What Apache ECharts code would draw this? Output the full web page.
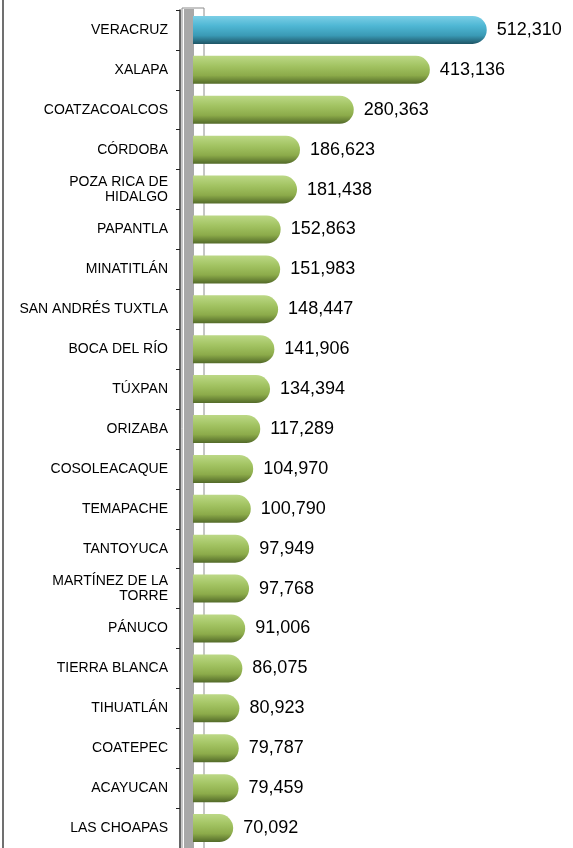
<!DOCTYPE html>
<html>
<head>
<meta charset="utf-8">
<style>
  html, body { margin: 0; padding: 0; background: #fff; }
  #main { width: 573px; height: 848px; }
</style>
<script src="https://cdn.jsdelivr.net/npm/echarts@6/dist/echarts.min.js"></script>
</head>
<body>
<div id="main"></div>
<script>
// municipios y población
var categories = ['VERACRUZ', 'XALAPA', 'COATZACOALCOS', 'CÓRDOBA', 'POZA RICA DE\nHIDALGO',
  'PAPANTLA', 'MINATITLÁN', 'SAN ANDRÉS TUXTLA', 'BOCA DEL RÍO', 'TÚXPAN', 'ORIZABA',
  'COSOLEACAQUE', 'TEMAPACHE', 'TANTOYUCA', 'MARTÍNEZ DE LA\nTORRE', 'PÁNUCO',
  'TIERRA BLANCA', 'TIHUATLÁN', 'COATEPEC', 'ACAYUCAN', 'LAS CHOAPAS'];
var values = [512310, 413136, 280363, 186623, 181438, 152863, 151983, 148447, 141906, 134394,
  117289, 104970, 100790, 97949, 97768, 91006, 86075, 80923, 79787, 79459, 70092];

var GRID_LEFT = 193, GRID_TOP = 10, GRID_H = 840;

function cylinder(c0, c1, c2, c3) {
  return new echarts.graphic.LinearGradient(0, 0, 0, 1, [
    { offset: 0, color: c0 },
    { offset: 0.35, color: c1 },
    { offset: 0.7, color: c2 },
    { offset: 1, color: c3 }
  ]);
}
var green = cylinder('#bcd886', '#a3c463', '#8cab4a', '#536a29');
var blue = cylinder('#7ccfe6', '#4fb7d4', '#3a9ab5', '#1f5566');

var chart = echarts.init(document.getElementById('main'));

var option = {
  animation: false,
  grid: {
    left: GRID_LEFT,
    top: GRID_TOP,
    height: GRID_H,
    right: 36
  },
  xAxis: {
    type: 'value',
    min: 0,
    max: 600000,
    show: false
  },
  yAxis: {
    type: 'category',
    inverse: true,
    data: categories,
    offset: 13,
    z: 3,
    axisLine: { show: true, onZero: false, lineStyle: { color: '#333', width: 1.5 } },
    axisTick: { show: true, inside: false, length: 4, lineStyle: { color: '#222', width: 1 } },
    axisLabel: {
      margin: 12,
      color: '#000',
      fontSize: 14,
      lineHeight: 15,
      fontFamily: 'Liberation Sans, Arial, sans-serif',
      align: 'right'
    },
    splitLine: { show: false }
  },
  // pared lateral del gráfico 3D
  graphic: [
    {
      type: 'line',
      shape: { x1: 3, y1: 0, x2: 3, y2: 848 },
      style: { stroke: '#404040', lineWidth: 1.5 }
    },
    {
      type: 'rect',
      shape: { x: 182, y: GRID_TOP - 2, width: 22, height: GRID_H + 10 },
      style: { fill: '#fff', stroke: '#8c8c8c', lineWidth: 1 }
    },
    {
      type: 'rect',
      shape: { x: 184, y: GRID_TOP - 1, width: 10, height: GRID_H + 10 },
      style: { fill: '#a8a8a8' }
    }
  ],
  series: [{
    type: 'bar',
    z: 5,
    barWidth: 28,
    data: values.map(function (v, i) {
      return { value: v, itemStyle: { color: i === 0 ? blue : green } };
    }),
    itemStyle: {
      borderRadius: [0, 14, 14, 0]
    },
    label: {
      show: true,
      position: 'right',
      distance: 10,
      color: '#000',
      fontSize: 18,
      fontFamily: 'Liberation Sans, Arial, sans-serif',
      formatter: function (p) {
        return p.value.toString().replace(/\B(?=(\d{3})+(?!\d))/g, ',');
      }
    }
  }]
};
chart.setOption(option);
</script>
</body>
</html>
